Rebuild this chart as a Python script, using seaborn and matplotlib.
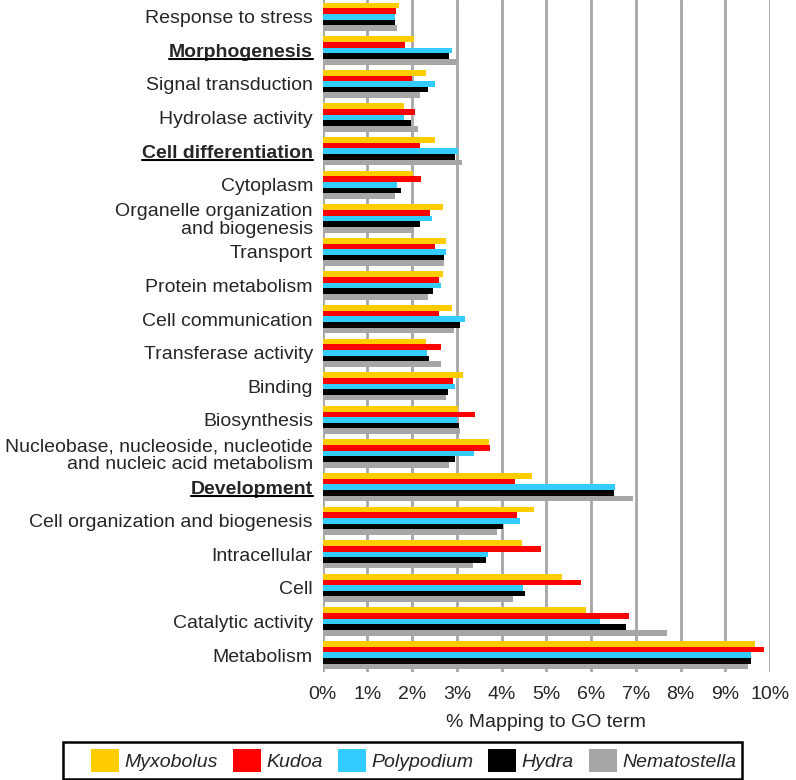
import matplotlib
matplotlib.use("Agg")
import matplotlib.pyplot as plt
from matplotlib.lines import Line2D
from matplotlib.patches import Patch, Rectangle
import seaborn as sns
import pandas as pd

# GO terms, top to bottom
categories = [
    "Response to stress",
    "Morphogenesis",
    "Signal transduction",
    "Hydrolase activity",
    "Cell differentiation",
    "Cytoplasm",
    "Organelle organization\nand biogenesis",
    "Transport",
    "Protein metabolism",
    "Cell communication",
    "Transferase activity",
    "Binding",
    "Biosynthesis",
    "Nucleobase, nucleoside, nucleotide\nand nucleic acid metabolism",
    "Development",
    "Cell organization and biogenesis",
    "Intracellular",
    "Cell",
    "Catalytic activity",
    "Metabolism",
]
bold_terms = ["Morphogenesis", "Cell differentiation", "Development"]

species = ["Myxobolus", "Kudoa", "Polypodium", "Hydra", "Nematostella"]
colors = ["#FFCC00", "#FF0000", "#33CCFF", "#000000", "#A6A6A6"]

# % mapping to GO term
myxobolus = [1.71, 2.05, 2.30, 1.82, 2.50, 2.03, 2.68, 2.75, 2.70, 2.89,
             2.31, 3.14, 3.03, 3.71, 4.67, 4.72, 4.46, 5.36, 5.88, 9.66]
kudoa = [1.64, 1.85, 1.99, 2.07, 2.17, 2.20, 2.41, 2.52, 2.59, 2.59,
         2.65, 2.91, 3.41, 3.73, 4.30, 4.34, 4.89, 5.78, 6.85, 9.87]
polypodium = [1.62, 2.90, 2.50, 1.82, 3.02, 1.67, 2.44, 2.75, 2.65, 3.19,
              2.33, 2.95, 3.00, 3.39, 6.54, 4.42, 3.69, 4.47, 6.21, 9.57]
hydra = [1.62, 2.82, 2.35, 1.97, 2.95, 1.74, 2.18, 2.71, 2.47, 3.08,
         2.37, 2.81, 3.04, 2.96, 6.52, 4.04, 3.64, 4.52, 6.79, 9.58]
nematostella = [1.66, 3.00, 2.18, 2.12, 3.11, 1.62, 2.04, 2.72, 2.35, 2.94,
                2.65, 2.76, 3.06, 2.82, 6.93, 3.90, 3.36, 4.25, 7.69, 9.50]

sns.set_style("white")
plt.rcParams["font.family"] = ["Liberation Sans", "DejaVu Sans"]

rows = []
for sp, vals in zip(species, [myxobolus, kudoa, polypodium, hydra, nematostella]):
    for cat, v in zip(categories, vals):
        rows.append({"term": cat, "species": sp, "pct": v})
df = pd.DataFrame(rows)

fig = plt.figure(figsize=(7.96, 7.80), dpi=100)
ax = fig.add_axes([0.4054, 0.1385, 0.5619, 0.8615])

sns.barplot(data=df, y="term", x="pct", hue="species", order=categories,
            hue_order=species, palette=colors, orient="h", width=0.84,
            saturation=1, linewidth=0, legend=False, ax=ax)

ax.set_axisbelow(True)
ax.grid(axis="x", color="#A6A6A6", linewidth=2)
ax.grid(axis="y", visible=False)
for s in ax.spines.values():
    s.set_visible(False)

ax.set_xlim(0, 10)
ax.set_ylim(len(categories) - 0.5, -0.5)
ax.set_xticks(range(11))
ax.set_xticklabels([f"{i}%" for i in range(11)])
ax.tick_params(axis="x", length=4, color="#A6A6A6", width=2, labelsize=14, pad=6)
ax.tick_params(axis="y", length=0, labelsize=14, pad=7)
ax.set_xlabel("% Mapping to GO term", fontsize=14, labelpad=8)
ax.set_ylabel("")

for lbl in ax.get_yticklabels():
    lbl.set_linespacing(1.05)
    if lbl.get_text() in bold_terms:
        lbl.set_fontweight("bold")

# legend: square swatches, frame drawn separately
handles = [Patch(facecolor=c, edgecolor="none") for c in colors]
leg = fig.legend(handles, species, ncol=5, loc="center left",
                 bbox_to_anchor=(91 / 796, 0.025), frameon=False,
                 prop={"style": "italic", "size": 14},
                 handlelength=1.45, handleheight=1.45, handletextpad=0.28,
                 columnspacing=0.76, borderpad=0, borderaxespad=0)
fig.add_artist(Rectangle((62.7 / 796, 1 - 779 / 780), (742 - 62.7) / 796,
                         (779 - 741.7) / 780, fill=False, edgecolor="black",
                         linewidth=1.8, transform=fig.transFigure))

# underline the highlighted terms
fig.canvas.draw()
renderer = fig.canvas.get_renderer()
inv = fig.transFigure.inverted()
for lbl in ax.get_yticklabels():
    if lbl.get_text() in bold_terms:
        bb = lbl.get_window_extent(renderer)
        y = bb.y0 + 0.1 * bb.height
        (x0, yf), (x1, _) = inv.transform([(bb.x0, y), (bb.x1, y)])
        fig.add_artist(Line2D([x0, x1], [yf, yf], color="black", linewidth=1.5,
                              transform=fig.transFigure))

fig.savefig("out.png", dpi=100)
